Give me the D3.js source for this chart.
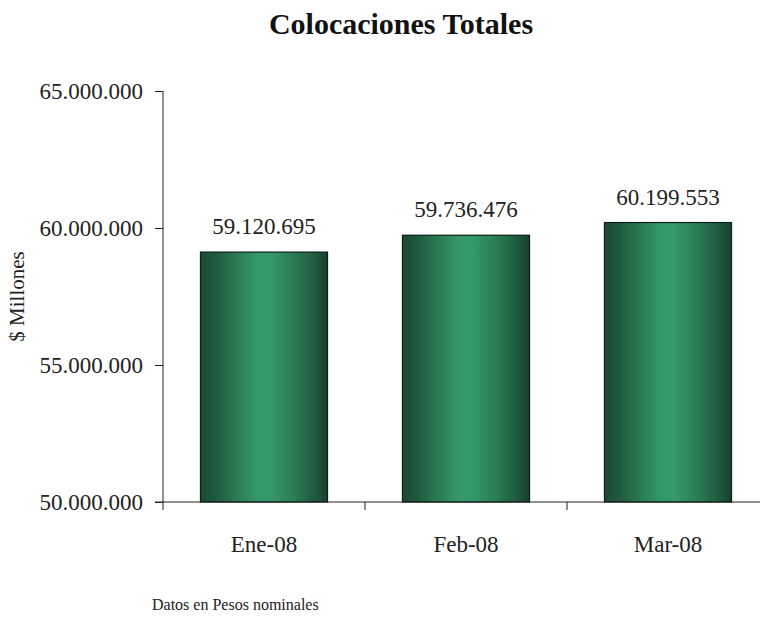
<!DOCTYPE html>
<html>
<head>
<meta charset="utf-8">
<script src="https://cdn.jsdelivr.net/npm/d3@7"></script>
<style>
  html, body { margin: 0; padding: 0; background: #fff; }
  svg { display: block; font-family: "Liberation Serif", serif; }
</style>
</head>
<body>
<svg id="chart" width="760" height="619"></svg>
<script>
// Colocaciones totales por mes ($ millones)
const categories = ["Ene-08", "Feb-08", "Mar-08"];
const values = [59120695, 59736476, 60199553];
const yTicks = [50000000, 55000000, 60000000, 65000000];

const fmt = v => d3.format(",")(v).replace(/,/g, ".");

const svg = d3.select("#chart");
const plotLeft = 163, plotRight = 769, plotTop = 91, plotBottom = 502;

const x = d3.scaleBand().domain(categories).range([plotLeft, plotRight])
  .paddingInner(0.371).paddingOuter(0.1855);
const y = d3.scaleLinear().domain([50000000, 65000000]).range([plotBottom, plotTop]);

// Cylinder-like horizontal gradient for bars
const defs = svg.append("defs");
const grad = defs.append("linearGradient").attr("id", "barGrad")
  .attr("x1", "0%").attr("x2", "100%").attr("y1", "0%").attr("y2", "0%");
[
  [0, "#1a4a32"], [0.12, "#1f5a3d"], [0.3, "#2b7f55"], [0.45, "#35996a"],
  [0.55, "#35996a"], [0.72, "#2b7f55"], [0.9, "#1f5a3d"], [1, "#183f2c"]
].forEach(([o, c]) => grad.append("stop").attr("offset", o).attr("stop-color", c));

// Title
svg.append("text").attr("x", 401).attr("y", 34).attr("text-anchor", "middle")
  .attr("font-size", 30).attr("font-weight", "bold").attr("fill", "#111")
  .text("Colocaciones Totales");

// Bars
svg.append("g").selectAll("rect").data(values).join("rect")
  .attr("x", (d, i) => x(categories[i]))
  .attr("y", d => y(d))
  .attr("width", x.bandwidth())
  .attr("height", d => plotBottom - y(d))
  .attr("fill", "url(#barGrad)")
  .attr("stroke", "#0b1f14").attr("stroke-width", 1.2);

// Value labels
svg.append("g").selectAll("text").data(values).join("text")
  .attr("x", (d, i) => x(categories[i]) + x.bandwidth() / 2)
  .attr("y", d => y(d) - 18)
  .attr("text-anchor", "middle").attr("font-size", 23).attr("fill", "#222")
  .text(d => fmt(d));

// Y axis
const yAxis = d3.axisLeft(y).tickValues(yTicks).tickSize(8).tickPadding(12)
  .tickFormat(fmt);
const gy = svg.append("g").attr("transform", `translate(${plotLeft},0)`).call(yAxis);
gy.attr("font-family", "Liberation Serif, serif").attr("font-size", 23);
gy.select(".domain").attr("d", `M0,${plotTop}V${plotBottom}`).attr("stroke", "#222");
gy.selectAll(".tick line").attr("stroke", "#222");
gy.selectAll(".tick text").attr("fill", "#222");

// X axis
const xEdges = d3.scaleLinear().domain([0, categories.length]).range([plotLeft, plotRight]);
const gx = svg.append("g");
gx.append("line").attr("x1", 155).attr("x2", 760).attr("y1", plotBottom).attr("y2", plotBottom)
  .attr("stroke", "#222");
gx.selectAll("line.tk").data(d3.range(categories.length + 1)).join("line")
  .attr("class", "tk")
  .attr("x1", d => xEdges(d)).attr("x2", d => xEdges(d))
  .attr("y1", plotBottom).attr("y2", plotBottom + 8).attr("stroke", "#222");
gx.selectAll("text").data(categories).join("text")
  .attr("x", d => x(d) + x.bandwidth() / 2).attr("y", 552)
  .attr("text-anchor", "middle").attr("font-size", 23).attr("fill", "#222")
  .text(d => d);

// Y axis title
svg.append("text").attr("transform", `translate(24,${(plotTop + plotBottom) / 2}) rotate(-90)`)
  .attr("text-anchor", "middle").attr("font-size", 21).attr("fill", "#222")
  .text("$ Millones");

// Footnote
svg.append("text").attr("x", 152).attr("y", 610).attr("font-size", 16).attr("fill", "#222")
  .text("Datos en Pesos nominales");
</script>
</body>
</html>
